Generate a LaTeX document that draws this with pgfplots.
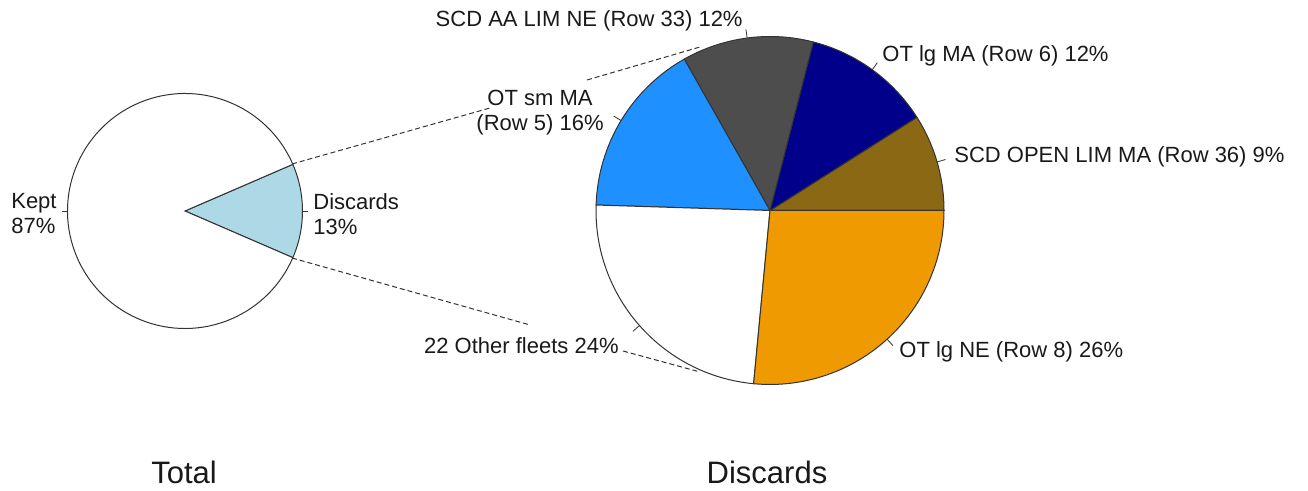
\documentclass[border=0pt]{standalone}
\usepackage{fontspec}
\setmainfont{Liberation Sans}
\usepackage{pgfplots}
\pgfplotsset{compat=1.18}

\definecolor{sOpen}{HTML}{8B6914}
\definecolor{sLgMA}{HTML}{00008B}
\definecolor{sAA}{HTML}{4D4D4D}
\definecolor{sSm}{HTML}{1E90FF}
\definecolor{sOther}{HTML}{FFFFFF}
\definecolor{sLgNE}{HTML}{EE9A00}
\definecolor{sDisc}{HTML}{ADD8E6}
\definecolor{sKept}{HTML}{FFFFFF}
\definecolor{edge}{HTML}{333333}

\tikzset{
  lbl/.style={font=\fontsize{11}{12.5}\selectfont, inner sep=0pt, text=black!90},
  ttl/.style={font=\fontsize{15.5}{18}\selectfont, inner sep=0pt, text=black!90},
}

% #1,#2 centre (axis units = px), #3 radius (pt), #4 start angle, #5 share/colour list
\newcommand\pieslices[5]{%
  \gdef\angA{#4}%
  \foreach \v/\c in {#5}{%
    \pgfmathsetmacro\angB{\angA+3.6*\v}%
    \pgfmathsetmacro\angM{(\angA+\angB)/2}%
    \pgfmathsetmacro\rr{1.05*#3}%
    \edef\temp{%
      \noexpand\filldraw[fill=\c, draw=edge, line width=0.5pt]
        (axis cs:#1,#2) -- ++(\angA:#3pt)
        arc[start angle=\angA, end angle=\angB, radius=#3pt] -- cycle;
      \noexpand\draw[edge, line width=0.4pt]
        ([shift={(\angM:#3pt)}]axis cs:#1,#2) -- ([shift={(\angM:\rr pt)}]axis cs:#1,#2);
    }%
    \temp
    \global\let\angA\angB
  }%
}

\begin{document}
\begin{tikzpicture}
\begin{axis}[
  scale only axis,
  width=654pt, height=245.5pt,
  xmin=0, xmax=1308, ymin=0, ymax=491,
  axis lines=none, clip=false,
]
% keep the whole canvas in the bounding box
\path (rel axis cs:0,0) rectangle (rel axis cs:1,1);

% connector lines
\draw[edge, dash pattern=on 2.5pt off 1.5pt, line width=0.5pt]
  (axis cs:292,327) -- (axis cs:490,383)
  (axis cs:587,411) -- (axis cs:700,444)
  (axis cs:292,233) -- (axis cs:530,166)
  (axis cs:623,140) -- (axis cs:700,119);

% Total: Discards 13%, Kept 87%
\pieslices{185}{280}{58.75}{-23.4}{13/sDisc, 87/sKept}

% Discards breakdown
\pieslices{770}{280.5}{87}{0}{9.0/sOpen, 12.0/sLgMA, 12.2/sAA, 16.3/sSm, 24.0/sOther, 26.5/sLgNE}

% labels
\node[lbl, anchor=west] at (axis cs:954,334) {SCD OPEN LIM MA (Row 36) 9\%};
\node[lbl, anchor=west] at (axis cs:882,435.5) {OT lg MA (Row 6) 12\%};
\node[lbl, anchor=east] at (axis cs:743,470) {SCD AA LIM NE (Row 33) 12\%};
\node[lbl, anchor=east, align=center] at (axis cs:604,378) {OT sm MA\\(Row 5) 16\%};
\node[lbl, anchor=east] at (axis cs:619,145) {22 Other fleets 24\%};
\node[lbl, anchor=west] at (axis cs:899,139) {OT lg NE (Row 8) 26\%};
\node[lbl, anchor=east, align=left] at (axis cs:57,277) {Kept\\87\%};
\node[lbl, anchor=west, align=left] at (axis cs:313,277) {Discards\\13\%};

% titles
\node[ttl] at (axis cs:184,19) {Total};
\node[ttl] at (axis cs:767,19) {Discards};
\end{axis}
\end{tikzpicture}
\end{document}
